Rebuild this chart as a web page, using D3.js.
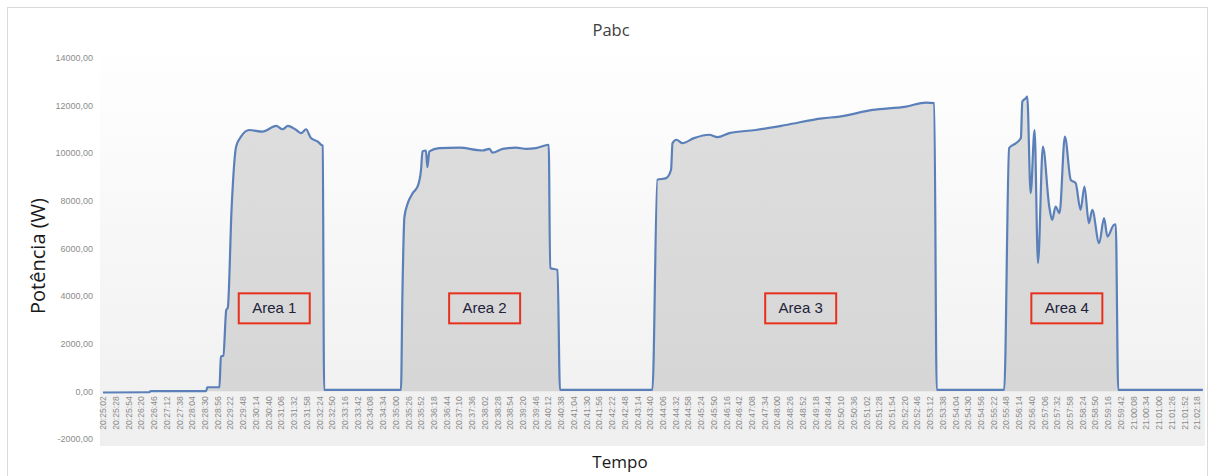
<!DOCTYPE html>
<html>
<head>
<meta charset="utf-8">
<script src="https://cdn.jsdelivr.net/npm/d3@7"></script>
<style>
  body { margin: 0; background: #fff; }
  svg { display: block; font-family: "Open Sans", "Liberation Sans", sans-serif; }
</style>
</head>
<body>
<div id="chart"></div>
<script>
// Eixo X: rótulos a cada 26 s, de 20:25:02 até 21:02:18
const tickStart = "20:25:02";
const tickStep = 26;
const tickCount = 87;

const yTicks = [-2000, 0, 2000, 4000, 6000, 8000, 10000, 12000, 14000];

// Pontos (hora, potência W)
const tempos = [
  "20:25:02", "20:26:36", "20:26:40", "20:28:33", "20:28:35", "20:29:00", "20:29:03", "20:29:08",
  "20:29:14", "20:29:17", "20:29:25", "20:29:34", "20:29:44", "20:30:01", "20:30:28", "20:30:56",
  "20:31:09", "20:31:20", "20:31:37", "20:31:47", "20:31:57", "20:32:07", "20:32:21", "20:32:28",
  "20:32:31", "20:32:34",
  "20:35:11", "20:35:14", "20:35:18", "20:35:25", "20:35:35", "20:35:45", "20:35:52", "20:35:55",
  "20:36:02", "20:36:05", "20:36:09", "20:36:29", "20:37:10", "20:37:58", "20:38:12", "20:38:18",
  "20:38:39", "20:39:06", "20:39:27", "20:39:47", "20:40:13", "20:40:16", "20:40:31", "20:40:36",
  "20:43:45", "20:43:55", "20:44:13", "20:44:23", "20:44:26", "20:44:34", "20:44:46", "20:45:10",
  "20:45:41", "20:45:58", "20:46:22", "20:47:16", "20:48:18", "20:49:32", "20:50:07", "20:51:15",
  "20:52:23", "20:53:04", "20:53:21", "20:53:26",
  "20:55:44", "20:55:54", "20:56:08", "20:56:18", "20:56:21", "20:56:28", "20:56:31", "20:56:38",
  "20:56:46", "20:56:53", "20:57:03", "20:57:16", "20:57:22", "20:57:29", "20:57:37", "20:57:48",
  "20:58:00", "20:58:10", "20:58:20", "20:58:28", "20:58:37", "20:58:44", "20:58:58", "20:59:08",
  "20:59:15", "20:59:28", "20:59:32", "20:59:37", "21:02:30"
];
const potencia = [
  -50, -40, 10, 10, 170, 170, 1460, 1500,
  3420, 3500, 7750, 10260, 10680, 10960, 10890, 11130,
  10990, 11130, 10960, 10830, 10990, 10620, 10470, 10340,
  10300, 60,
  60, 4100, 7300, 7890, 8310, 8590, 9290, 10060,
  10100, 9400, 10060, 10200, 10220, 10100, 10170, 10010,
  10170, 10220, 10170, 10200, 10340, 5170, 5090, 60,
  60, 8870, 8940, 9290, 10410, 10550, 10410, 10620,
  10760, 10660, 10830, 10960, 11170, 11450, 11520, 11800,
  11940, 12110, 12090, 60,
  60, 10200, 10410, 10620, 12150, 12290, 12360, 8310,
  10960, 5380, 10260, 7750, 7190, 7750, 7470, 10680,
  8870, 8730, 7610, 8590, 7050, 7610, 6210, 7260,
  6490, 6980, 7000, 60, 60
];

const areaLabels = ["Area 1", "Area 2", "Area 3", "Area 4"];
const areaTimes = ["20:30:52", "20:38:02", "20:48:48", "20:57:52"];
const areaValue = 3480;

const width = 1216;
const height = 476;
const margin = { top: 57, right: 12, bottom: 37, left: 103 };

function toSec(s) {
  const p = s.split(":").map(Number);
  return p[0] * 3600 + p[1] * 60 + p[2];
}
function fmt(sec) {
  const h = Math.floor(sec / 3600), m = Math.floor((sec % 3600) / 60), s = sec % 60;
  return [h, m, s].map((v) => String(v).padStart(2, "0")).join(":");
}

const t0 = toSec(tickStart);
const data = tempos.map((t, i) => ({ t: toSec(t) - t0, v: potencia[i] }));
const tickVals = d3.range(tickCount).map((i) => i * tickStep);

const svg = d3.select("#chart").append("svg")
  .attr("width", width).attr("height", height);

const defs = svg.append("defs");
const bgGrad = defs.append("linearGradient").attr("id", "bg")
  .attr("x1", 0).attr("y1", 0).attr("x2", 0).attr("y2", 1);
bgGrad.append("stop").attr("offset", "0%").attr("stop-color", "#ffffff");
bgGrad.append("stop").attr("offset", "100%").attr("stop-color", "#efefef");
const fillGrad = defs.append("linearGradient").attr("id", "fillg")
  .attr("x1", 0).attr("y1", 0).attr("x2", 0).attr("y2", 1);
fillGrad.append("stop").attr("offset", "0%").attr("stop-color", "#dedede");
fillGrad.append("stop").attr("offset", "100%").attr("stop-color", "#d6d6d6");

// moldura
svg.append("rect")
  .attr("x", 7.5).attr("y", 7.5).attr("width", 1200).attr("height", 470)
  .attr("fill", "#fff").attr("stroke", "#d9d9d9");

const x = d3.scaleLinear()
  .domain([0, (tickCount - 1) * tickStep])
  .range([margin.left, 1197]);

const y = d3.scaleLinear()
  .domain([-2000, 14000])
  .range([439, 57.5]);

// fundo da área de plotagem
svg.append("rect")
  .attr("x", 100).attr("y", 40).attr("width", 1105).attr("height", 406)
  .attr("fill", "url(#bg)");

const area = d3.area()
  .x((d) => x(d.t))
  .y0(y(0))
  .y1((d) => y(Math.max(d.v, 0)))
  .curve(d3.curveMonotoneX);

const line = d3.line()
  .x((d) => x(d.t))
  .y((d) => y(d.v))
  .curve(d3.curveMonotoneX);

svg.append("path")
  .datum(data)
  .attr("fill", "url(#fillg)")
  .attr("d", area);

svg.append("path")
  .datum(data)
  .attr("fill", "none")
  .attr("stroke", "#5b80b9")
  .attr("stroke-width", 2.2)
  .attr("stroke-linejoin", "round")
  .attr("d", line);

// eixo Y
const yAxis = svg.append("g")
  .attr("transform", `translate(93,0)`)
  .call(d3.axisLeft(y).tickValues(yTicks).tickSize(0).tickPadding(0)
    .tickFormat((d) => d.toFixed(2).replace(".", ",")));
yAxis.select(".domain").remove();
yAxis.selectAll("text")
  .attr("fill", "#8c8c8c")
  .style("font-size", "9px");

// eixo X
const xAxis = svg.append("g")
  .attr("transform", `translate(0,${y(0) + 5})`)
  .call(d3.axisBottom(x).tickValues(tickVals).tickSize(0).tickPadding(0)
    .tickFormat((d) => fmt(t0 + d)));
xAxis.select(".domain").remove();
xAxis.selectAll("text")
  .attr("fill", "#8c8c8c")
  .style("font-size", "8.6px")
  .attr("text-anchor", "end")
  .attr("transform", "rotate(-90)")
  .attr("x", 0)
  .attr("y", 0)
  .attr("dx", 0)
  .attr("dy", "0.32em");

// rótulos das áreas
areaLabels.forEach((lab, i) => {
  const cx = x(toSec(areaTimes[i]) - t0);
  const cy = y(areaValue);
  svg.append("rect")
    .attr("x", cx - 35.5).attr("y", cy - 15).attr("width", 71).attr("height", 30)
    .attr("fill", "none").attr("stroke", "#e8311d").attr("stroke-width", 2);
  svg.append("text")
    .attr("x", cx).attr("y", cy + 1)
    .attr("text-anchor", "middle").attr("dominant-baseline", "middle")
    .attr("fill", "#22223a")
    .style("font-family", "'Liberation Sans', Arial, sans-serif")
    .style("font-size", "15px")
    .text(lab);
});

// títulos
svg.append("text")
  .attr("x", 611).attr("y", 36)
  .attr("text-anchor", "middle")
  .attr("fill", "#404040")
  .style("font-size", "16.5px")
  .text("Pabc");

svg.append("text")
  .attr("transform", `translate(45,256) rotate(-90)`)
  .attr("text-anchor", "middle")
  .attr("fill", "#1a1a1a")
  .style("font-size", "20px")
  .text("Potência (W)");

svg.append("text")
  .attr("x", 620).attr("y", 468)
  .attr("text-anchor", "middle")
  .attr("fill", "#1a1a1a")
  .style("font-size", "17px")
  .text("Tempo");
</script>
</body>
</html>
